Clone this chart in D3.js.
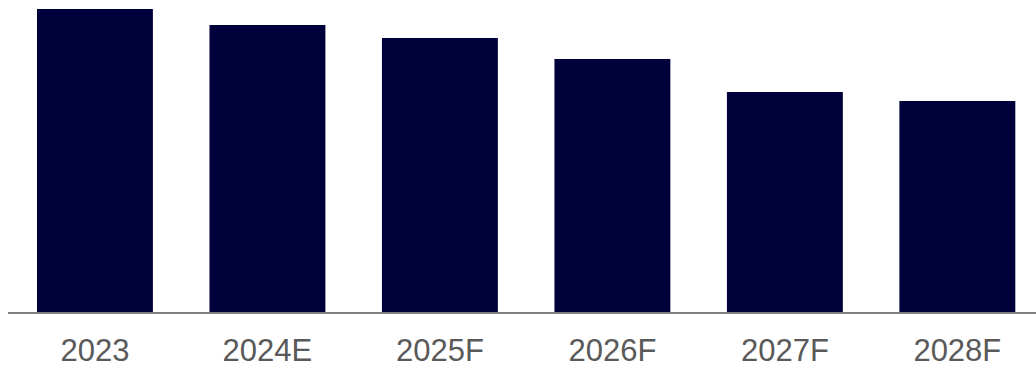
<!DOCTYPE html>
<html><head><meta charset="utf-8">
<script src="https://cdn.jsdelivr.net/npm/d3@7/dist/d3.min.js"></script>
<style>body{margin:0;background:#fff;}svg{display:block;}</style>
</head><body>
<svg id="c" width="1036" height="367"></svg>
<script>
const categories = ["2023","2024E","2025F","2026F","2027F","2028F"];
const values = [304, 288, 275, 254, 221, 212];

const W = 1036, H = 367;
const svg = d3.select("#c");
const x = d3.scaleBand().domain(categories).range([8.7, 1043.6]).paddingInner(0.328).paddingOuter(0.164);
const y = d3.scaleLinear().domain([0, 304]).range([313, 9]);

svg.selectAll("rect.bar").data(values).join("rect")
  .attr("class","bar")
  .attr("x",(d,i)=>x(categories[i]))
  .attr("y",d=>y(d))
  .attr("width",x.bandwidth())
  .attr("height",d=>y(0)-y(d))
  .attr("fill","#00003a");

svg.append("line").attr("x1",8).attr("x2",W).attr("y1",y(0)).attr("y2",y(0))
  .attr("stroke","#808080").attr("stroke-width",2);

svg.selectAll("text.lab").data(categories).join("text")
  .attr("class","lab")
  .attr("x",d=>x(d)+x.bandwidth()/2)
  .attr("y",361)
  .attr("text-anchor","middle")
  .attr("font-family","Liberation Sans, Arial, sans-serif")
  .attr("font-size",31)
  .attr("fill","#595959")
  .text(d=>d);
</script>
</body></html>
